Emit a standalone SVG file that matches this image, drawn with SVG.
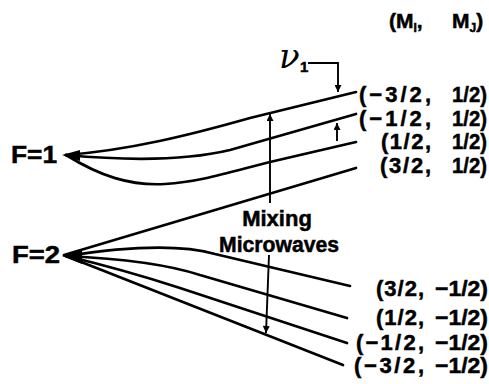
<svg xmlns="http://www.w3.org/2000/svg" width="489" height="384" viewBox="0 0 489 384">
<defs>
<style>
.lvl{fill:none;stroke:#000;stroke-width:2.7;stroke-linecap:round}
.arr{fill:none;stroke:#000;stroke-width:1.9}
.t{font-family:"Liberation Sans",Arial,sans-serif;font-weight:bold;fill:#000;stroke:#000;stroke-width:0.5}
.q{font-size:22px}
</style>
<marker id="ah2" viewBox="0 0 10 10" refX="10" refY="5" markerWidth="11" markerHeight="7" markerUnits="userSpaceOnUse" orient="auto">
<path d="M0,0 L10,5 L0,10 Z" fill="#000"/>
</marker>
</defs>
<rect width="489" height="384" fill="#fff"/>

<g id="F1">
<text class="t" x="11" y="163" font-size="24" textLength="46" lengthAdjust="spacingAndGlyphs">F=1</text>
<polygon points="62,155 80,150 80,161" fill="#000"/>
<path class="lvl" d="M66,155 C130,150 190,135 250,118 L356,92"/>
<path class="lvl" d="M66,155 C120,160 180,162 230,150 L356,114"/>
<path class="lvl" d="M66,155 C100,176 130,186 165,184 C200,182 230,172 270,162 L356,142"/>
</g>

<g id="F2">
<text class="t" x="12" y="263" font-size="24" textLength="48" lengthAdjust="spacingAndGlyphs">F=2</text>
<polygon points="62,256 82,249 82,264" fill="#000"/>
<path class="lvl" d="M64,255 L356,168"/>
<path class="lvl" d="M66,256 C130,246 180,244 215,254 L350,286"/>
<path class="lvl" d="M66,256 C110,258 160,262 200,275 L347,318"/>
<path class="lvl" d="M66,256 C100,264 140,275 180,288 L347,343"/>
<path class="lvl" d="M66,256 L343,365"/>
</g>

<g id="header">
<text class="t" x="389" y="28" font-size="21">(M<tspan font-size="12" dy="4">I</tspan><tspan dy="-4">,</tspan></text>
<text class="t" x="452" y="28" font-size="21">M<tspan font-size="12" dy="4">J</tspan><tspan dy="-4">)</tspan></text>
</g>

<g id="states">
<text class="t q" x="359" y="102" textLength="72" lengthAdjust="spacing">(−3/2,</text>
<text class="t q" x="452" y="102" textLength="35" lengthAdjust="spacingAndGlyphs">1/2)</text>
<text class="t q" x="359" y="126" textLength="72" lengthAdjust="spacing">(−1/2,</text>
<text class="t q" x="452" y="126" textLength="35" lengthAdjust="spacingAndGlyphs">1/2)</text>
<text class="t q" x="381" y="149" textLength="50" lengthAdjust="spacing">(1/2,</text>
<text class="t q" x="452" y="149" textLength="35" lengthAdjust="spacingAndGlyphs">1/2)</text>
<text class="t q" x="380" y="173" textLength="51" lengthAdjust="spacing">(3/2,</text>
<text class="t q" x="452" y="173" textLength="35" lengthAdjust="spacingAndGlyphs">1/2)</text>

<text class="t q" x="376" y="296" textLength="48" lengthAdjust="spacing">(3/2,</text>
<text class="t q" x="435" y="296" textLength="53" lengthAdjust="spacingAndGlyphs">−1/2)</text>
<text class="t q" x="376" y="325" textLength="48" lengthAdjust="spacing">(1/2,</text>
<text class="t q" x="435" y="325" textLength="53" lengthAdjust="spacingAndGlyphs">−1/2)</text>
<text class="t q" x="356" y="350" textLength="68" lengthAdjust="spacing">(−1/2,</text>
<text class="t q" x="435" y="350" textLength="53" lengthAdjust="spacingAndGlyphs">−1/2)</text>
<text class="t q" x="354" y="373" textLength="70" lengthAdjust="spacing">(−3/2,</text>
<text class="t q" x="435" y="373" textLength="53" lengthAdjust="spacingAndGlyphs">−1/2)</text>
</g>

<g id="nu1">
<text x="279" y="68" font-family="'DejaVu Serif',serif" font-style="italic" font-size="34" fill="#000">ν</text>
<text class="t" x="300" y="72" font-size="15">1</text>
</g>

<g id="mixing">
<text class="t" x="277" y="226" font-size="22" text-anchor="middle">Mixing</text>
<text class="t" x="279" y="252" font-size="22" text-anchor="middle" textLength="120" lengthAdjust="spacingAndGlyphs">Microwaves</text>
</g>

<g id="connectors">
<path class="arr" d="M308,63 H338 V92" marker-end="url(#ah2)"/>
<path class="arr" d="M270,203 V114" marker-end="url(#ah2)"/>
<path class="arr" d="M337,141 V123" marker-end="url(#ah2)"/>
<path class="arr" d="M269,255 L266,333" marker-end="url(#ah2)"/>
</g>
</svg>
